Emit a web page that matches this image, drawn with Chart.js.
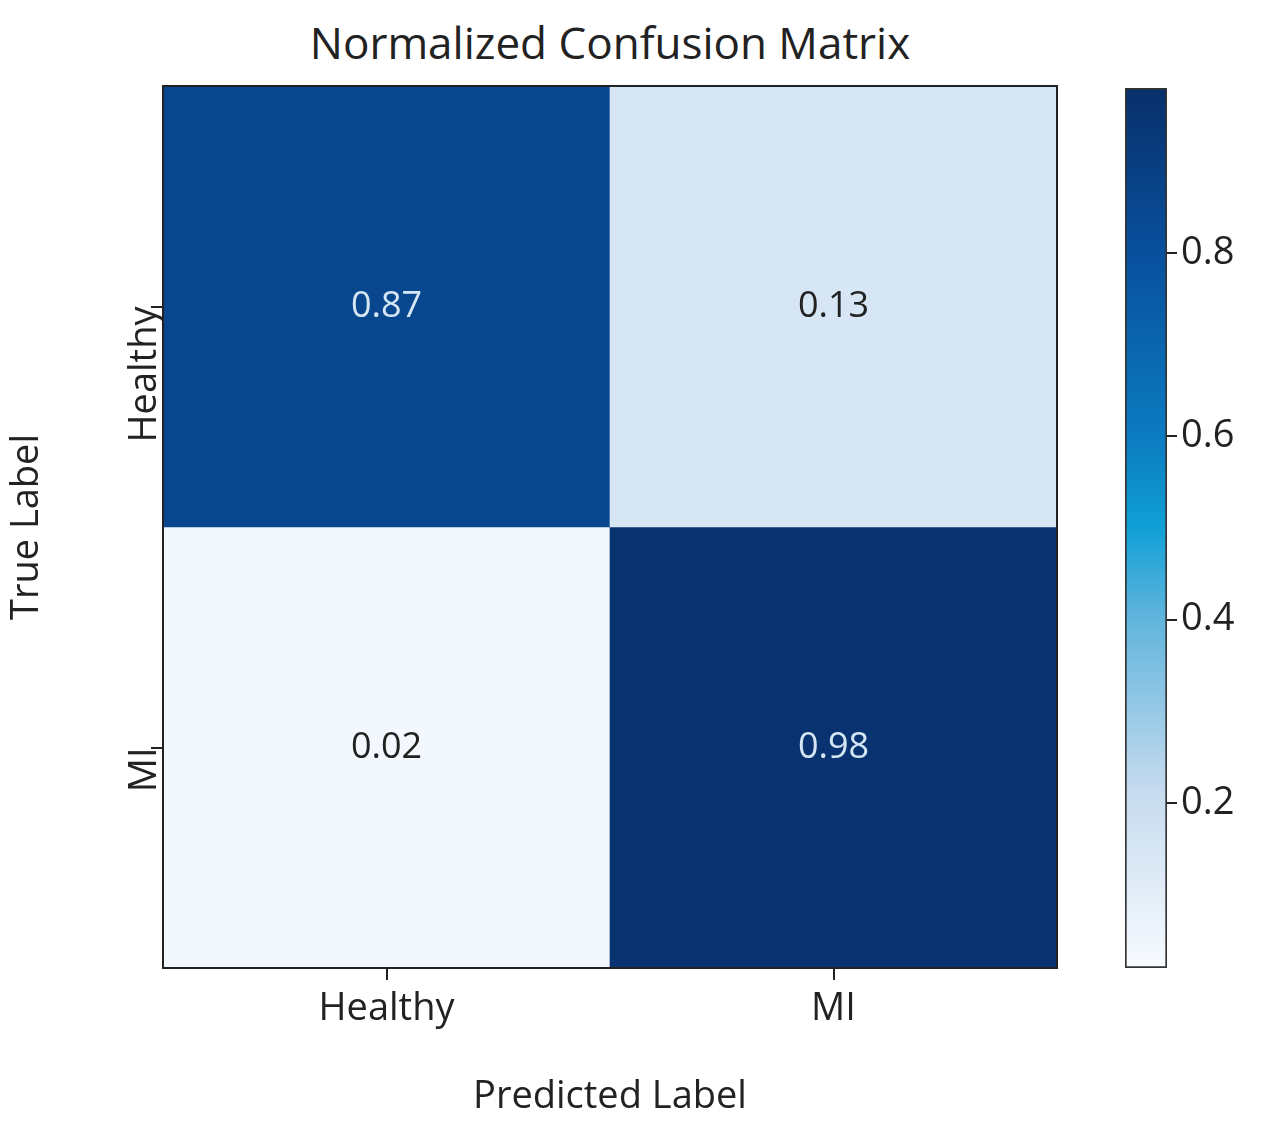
<!DOCTYPE html>
<html lang="en">
<head>
  <meta charset="UTF-8">
  <title>Normalized Confusion Matrix</title>
  <script src="https://cdn.jsdelivr.net/npm/chart.js"></script>
  <style>
    body { margin: 0; background: #fff; }
    #wrap { position: relative; width: 1272px; height: 1124px; }
    #wrap canvas { position: absolute; left: 0; top: 0; }
    #title { position: absolute; top: 12px; left: 163px; width: 894px; text-align: center;
             font: 44px "Open Sans", sans-serif; color: #222; }
  </style>
</head>
<body>
  <div id="wrap">
    <div id="title">Normalized Confusion Matrix</div>
    <canvas id="matrix" width="1272" height="1124"></canvas>
    <canvas id="cbar" width="1272" height="1124"></canvas>
  </div>

  <script>
    const labels = ['Healthy', 'MI'];
    const healthyRow = [0.87, 0.13];
    const miRow = [0.02, 0.98];
    const cbarTicks = [0.2, 0.4, 0.6, 0.8];

    const font = '"Open Sans", sans-serif';

    // rough Blues colormap as seen in the picture
    const stops = [
      [0.0, [247, 251, 255]], [0.2, [198, 219, 239]], [0.4, [95, 180, 220]],
      [0.5, [16, 160, 214]], [0.6, [11, 124, 192]], [0.8, [8, 82, 160]], [1.0, [8, 48, 107]]
    ];
    function blues(v) {
      for (let i = 1; i < stops.length; i++) {
        if (v <= stops[i][0]) {
          const [a, ca] = stops[i - 1], [b, cb] = stops[i];
          const t = (v - a) / (b - a);
          const c = ca.map((x, k) => Math.round(x + (cb[k] - x) * t));
          return `rgb(${c.join(',')})`;
        }
      }
      return 'rgb(8,48,107)';
    }

    const cellText = {
      id: 'cellText',
      afterDatasetsDraw(chart) {
        const { ctx, scales: { x, y }, chartArea: a } = chart;
        ctx.save();
        ctx.font = '36px ' + font;
        ctx.textAlign = 'center';
        ctx.textBaseline = 'middle';
        [healthyRow, miRow].forEach((row, r) => {
          row.forEach((v, c) => {
            ctx.fillStyle = v > 0.5 ? '#d4e6f4' : '#222';
            ctx.fillText(v.toFixed(2), x.getPixelForValue(c), y.getPixelForValue(r + 0.5));
          });
        });
        ctx.strokeStyle = '#222';
        ctx.lineWidth = 2;
        ctx.strokeRect(a.left, a.top, a.right - a.left, a.bottom - a.top);
        ctx.restore();
      }
    };

    new Chart(document.getElementById('matrix'), {
      type: 'bar',
      data: {
        labels: labels,
        datasets: [
          { data: healthyRow.map(() => [0, 1]), backgroundColor: healthyRow.map(blues) },
          { data: miRow.map(() => [1, 2]), backgroundColor: miRow.map(blues) }
        ]
      },
      options: {
        responsive: false,
        animation: false,
        grouped: false,
        barPercentage: 1,
        categoryPercentage: 1,
        layout: { padding: { top: 86, right: 215 } },
        plugins: { legend: { display: false }, tooltip: { enabled: false } },
        scales: {
          x: {
            grid: { offset: false, drawOnChartArea: false, tickLength: 12, color: '#222', lineWidth: 2 },
            border: { display: false },
            ticks: { color: '#222', font: { family: font, size: 38 }, padding: 6 },
            title: { display: true, text: 'Predicted Label', color: '#222', font: { family: font, size: 38 }, padding: { top: 4 } },
            afterFit(axis) { axis.height = 156; }
          },
          y: {
            min: 0, max: 2, reverse: true,
            afterBuildTicks(axis) { axis.ticks = [{ value: 0.5 }, { value: 1.5 }]; },
            grid: { drawOnChartArea: false, tickLength: 12, color: '#222', lineWidth: 2 },
            border: { display: false },
            ticks: {
              minRotation: 90, maxRotation: 90, color: '#222', padding: 6,
              font: { family: font, size: 38 },
              callback: v => labels[Math.floor(v)]
            },
            title: { display: true, text: 'True Label', color: '#222', font: { family: font, size: 38 }, padding: { bottom: 4 } },
            afterFit(axis) { axis.width = 163; }
          }
        }
      },
      plugins: [cellText]
    });

    new Chart(document.getElementById('cbar'), {
      type: 'bar',
      data: {
        labels: ['c'],
        datasets: [{
          data: [[0.02, 0.98]],
          borderColor: '#333', borderWidth: 2, borderSkipped: false,
          backgroundColor(ctx) {
            const a = ctx.chart.chartArea;
            if (!a) return '#fff';
            const g = ctx.chart.ctx.createLinearGradient(0, a.bottom, 0, a.top);
            stops.forEach(([p, c]) => g.addColorStop(p, `rgb(${c.join(',')})`));
            return g;
          }
        }]
      },
      options: {
        responsive: false,
        animation: false,
        barPercentage: 1,
        categoryPercentage: 1,
        layout: { padding: { left: 1125, top: 88, bottom: 156 } },
        plugins: { legend: { display: false }, tooltip: { enabled: false } },
        scales: {
          x: { display: false },
          y: {
            position: 'right', min: 0.02, max: 0.98,
            afterBuildTicks(axis) { axis.ticks = cbarTicks.map(v => ({ value: v })); },
            grid: { drawOnChartArea: false, tickLength: 10, color: '#222', lineWidth: 2 },
            border: { display: false },
            ticks: { color: '#222', font: { family: font, size: 38 }, padding: 4, callback: v => v.toFixed(1) },
            afterFit(axis) { axis.width = 105; }
          }
        }
      }
    });
  </script>
</body>
</html>
